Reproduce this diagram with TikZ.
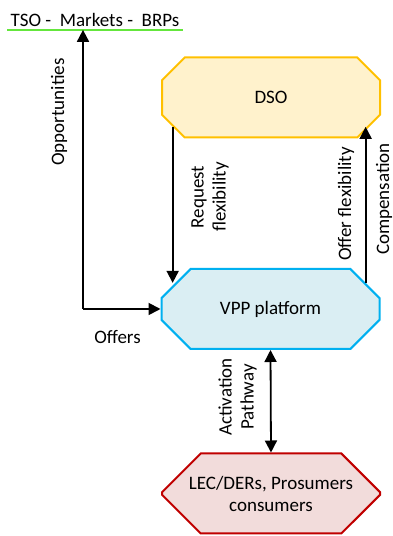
\documentclass[tikz,border=0pt]{standalone}
\usepackage{fontspec}
\setmainfont{Carlito}
\usetikzlibrary{arrows.meta,shapes.misc}
\definecolor{dsofill}{HTML}{FFF2CC}
\definecolor{dsoline}{HTML}{FFC000}
\definecolor{vppfill}{HTML}{DAEEF3}
\definecolor{vppline}{HTML}{00B0F0}
\definecolor{lecfill}{HTML}{F2DCDB}
\definecolor{lecline}{HTML}{C00000}
\definecolor{tsoline}{RGB}{100,230,60}
\begin{document}
\begin{tikzpicture}[x=1pt,y=1pt,
                     font=\fontsize{19}{22}\selectfont,
                     octa/.style={chamfered rectangle,chamfered rectangle xsep=21pt,
                       chamfered rectangle ysep=21pt,line width=2pt,inner sep=0pt,
                       minimum width=218pt,minimum height=80pt,align=center},
                     tip/.style={Triangle[length=12pt,width=12pt]},
                     flow/.style={line width=1.8pt,-{Triangle[length=12pt,width=12pt]}},
                     lbl/.style={rotate=90,align=center,inner sep=0pt}]
                     \useasboundingbox (0,0) rectangle (393,536);
                     \node (tso) at (95,516) [inner xsep=3pt,inner ysep=3pt]{TSO -\ \ Markets -\ \ BRPs};
                     \draw[tsoline,line width=2.5pt] (tso.south west) -- (tso.south east);
                     \node (dso) at (271,438.5) [octa,draw=dsoline,fill=dsofill]{DSO};
                     \node (vpp) at (270.5,227) [octa,draw=vppline,fill=vppfill]{VPP platform};
                     \node (lec) at (271,42.5) [octa,draw=lecline,fill=lecfill]{LEC/DERs, Prosumers\\consumers};
                     \coordinate (bend) at (83,227);
                     \draw[flow] (bend) -- (bend |- tso.south);
                     \draw[flow] (bend) -- (vpp.west);
                     \draw[flow] (dso.south west) -- (dso.south west |- vpp.north west);
                     \draw[flow] (vpp.north east) -- (vpp.north east |- dso.south east);
                     \draw[line width=1.8pt,{Triangle[length=12pt,width=12pt]}-{Triangle[length=12pt,width=12pt]}] (vpp.south) -- (lec.north);
                     \node (opp) at (59,424) [lbl]{Opportunities};
                     \node (offers) at (117.5,199) {Offers};
                     \node (req) at (210,339) [lbl]{Request\\flexibility};
                     \node (offflex) at (346,332) [lbl]{Offer flexibility};
                     \node (comp) at (384,337) [lbl]{Compensation};
                     \node (act) at (237.5,139) [lbl]{Activation\\Pathway};
                   \end{tikzpicture}
\end{document}
